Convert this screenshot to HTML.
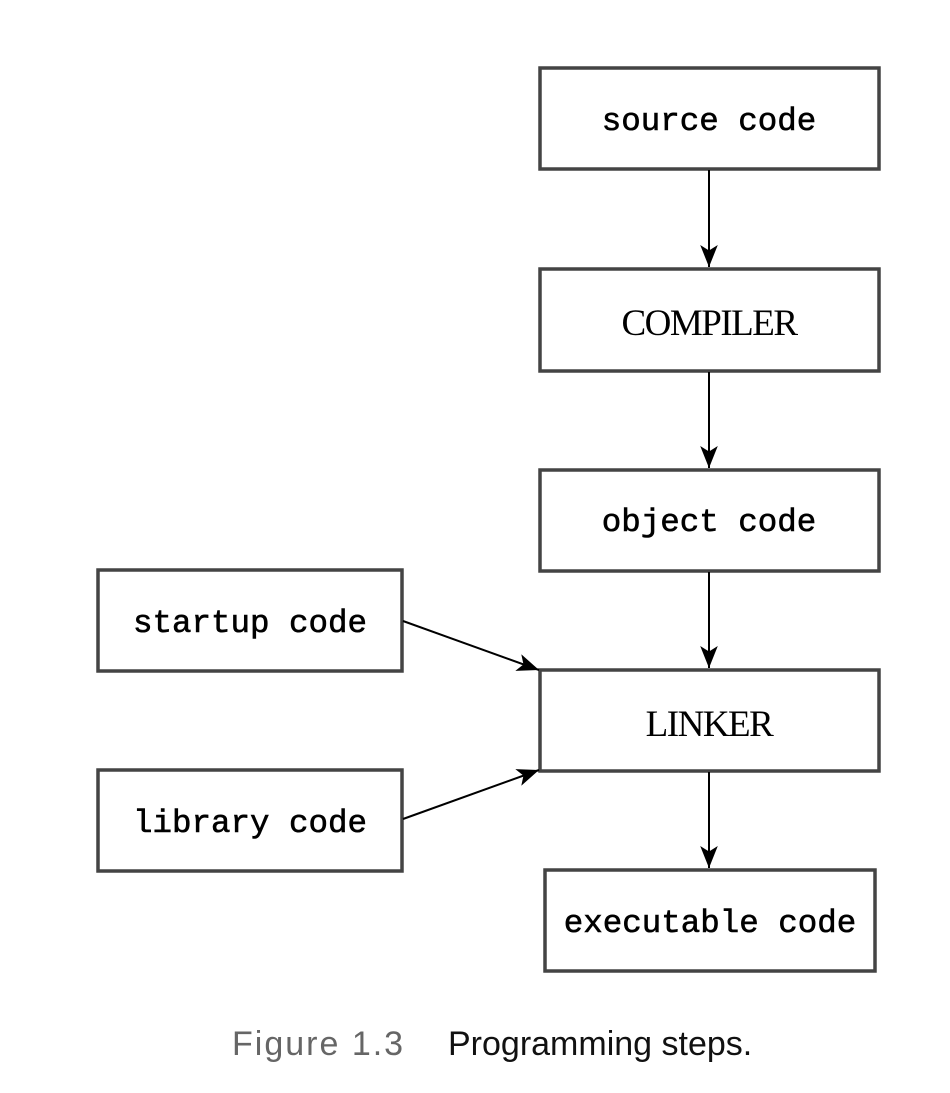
<!DOCTYPE html>
<html><head><style>
body{margin:0;background:#fff;width:950px;height:1088px;overflow:hidden}
</style></head><body>
<svg width="950" height="1088" xmlns="http://www.w3.org/2000/svg">
<defs>
<marker id="b" viewBox="0 0 20 20" markerWidth="22" markerHeight="22" refX="20" refY="10" orient="auto" markerUnits="userSpaceOnUse"><path d="M0,2 L20,10 L0,18 L5,10 Z" fill="#000"/></marker></defs>
<g fill="#fff" stroke="#444" stroke-width="3.5">
<rect x="540" y="68" width="339" height="101"/>
<rect x="540" y="269" width="339" height="102"/>
<rect x="540" y="470" width="339" height="101"/>
<rect x="540" y="670" width="339" height="101"/>
<rect x="545" y="870" width="330" height="101"/>
<rect x="98" y="570" width="304" height="101"/>
<rect x="98" y="770" width="304" height="101"/>
</g>
<g stroke="#000" stroke-width="2" fill="none">
<line x1="709" y1="170" x2="709" y2="267" marker-end="url(#b)"/>
<line x1="709" y1="372" x2="709" y2="468" marker-end="url(#b)"/>
<line x1="709" y1="572" x2="709" y2="668" marker-end="url(#b)"/>
<line x1="709" y1="772" x2="709" y2="868" marker-end="url(#b)"/>
<line x1="403" y1="621" x2="539" y2="670" marker-end="url(#b)"/>
<line x1="403" y1="819" x2="539" y2="770" marker-end="url(#b)"/>
</g>
<g font-family="Liberation Mono, monospace" font-size="32.5" text-anchor="middle" fill="#000" stroke="#000" stroke-width="0.6">
<text x="709" y="130">source code</text>
<text x="709" y="531">object code</text>
<text x="710" y="932">executable code</text>
<text x="250" y="632">startup code</text>
<text x="250" y="832">library code</text>
</g>
<g font-family="Liberation Serif, serif" font-size="37" text-anchor="middle" fill="#000">
<text x="709" y="335" letter-spacing="-1.5">COMPILER</text>
<text x="709" y="736" letter-spacing="-1.5">LINKER</text>
</g>
<text x="232" y="1055" font-family="Liberation Sans, sans-serif" font-size="34" letter-spacing="2" fill="#666">Figure 1.3</text>
<text x="448" y="1055" font-family="Liberation Sans, sans-serif" font-size="34" fill="#111">Programming steps.</text>
</svg>
</body></html>
